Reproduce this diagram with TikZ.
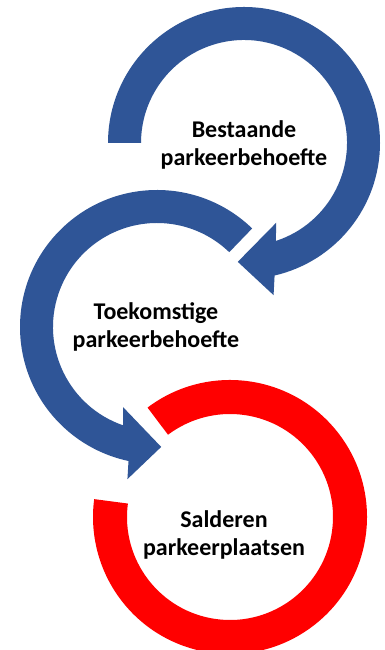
\documentclass[tikz,border=0pt]{standalone}
\usepackage{fontspec}
\setmainfont{Carlito}
\usetikzlibrary{calc}
\definecolor{arrowblue}{RGB}{47,85,151}
\definecolor{ringred}{RGB}{255,0,0}
\tikzset{
  lbl/.style={font=\bfseries\fontsize{24}{28.5}\selectfont, align=center, text=black, inner sep=0pt},
}
\begin{document}
\begin{tikzpicture}[x=1pt,y=1pt]
\useasboundingbox (0,0) rectangle (384,650);
\clip (0,0) rectangle (384,650);
\fill[white] (0,0) rectangle (384,650);
\coordinate (c1) at (244,507);
\coordinate (c2) at (157,323);
\coordinate (c3) at (230,133);
% top blue circular arrow
\fill[arrowblue] ($(c1)+(180:136)$) arc[start angle=180, end angle=-77, radius=136]
  -- ($(c1)+(-79:155)$) -- ($(c1)+(-93:119)$) -- ($(c1)+(-68:86)$)
  -- ($(c1)+(-72:103)$) arc[start angle=-72, end angle=180, radius=103] -- cycle;
% middle blue circular arrow
\fill[arrowblue] ($(c2)+(46:137)$) arc[start angle=46, end angle=258, radius=137]
  -- ($(c2)+(259:155)$) -- ($(c2)+(272:120)$) -- ($(c2)+(247:87)$)
  -- ($(c2)+(251:104)$) arc[start angle=251, end angle=46, radius=104] -- cycle;
% red ring
\fill[ringred] ($(c3)+(127:137)$) arc[start angle=127, end angle=-187.5, radius=137]
  -- ($(c3)+(172.5:103)$) arc[start angle=-187.5, end angle=127, radius=103] -- cycle;
\node[lbl] (t1) at (244,505) {Bestaande\\parkeerbehoefte};
\node[lbl] (t2) at (156,323) {Toekomstige\\parkeerbehoefte};
\node[lbl] (t3) at (224,115) {Salderen\\parkeerplaatsen};
\end{tikzpicture}
\end{document}
